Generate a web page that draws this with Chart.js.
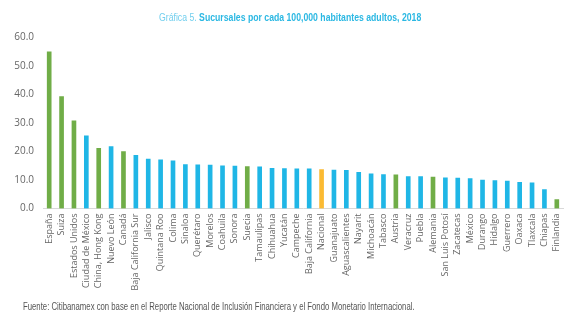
<!DOCTYPE html>
<html>
<head>
<meta charset="utf-8">
<script src="https://cdn.jsdelivr.net/npm/chart.js@4"></script>
<style>
  html, body { margin: 0; padding: 0; background: #fff; }
  #wrap { position: relative; width: 585px; height: 315px; overflow: hidden; }
  #chart0 { position: absolute; left: 0; top: 0; }
  .titulo { position: absolute; left: 159px; top: 10px; transform: scaleX(0.79); transform-origin: 0 0;
            font-family: "Liberation Sans", sans-serif;
            font-size: 11px; line-height: 14px; color: #2bb8e3; white-space: nowrap; }
  .titulo b { font-weight: bold; }
  .titulo span { color: #72cfee; }
  .fuente { position: absolute; left: 23px; top: 300px; transform: scaleX(0.775); transform-origin: 0 0;
            font-family: "Liberation Sans", sans-serif;
            font-size: 10px; line-height: 13px; color: #555; white-space: nowrap; }
</style>
</head>
<body>
<div id="wrap">
  <canvas id="chart0" width="585" height="315"></canvas>
  <div class="titulo"><span>Gráfica 5.</span> <b>Sucursales por cada 100,000 habitantes adultos, 2018</b></div>
  <div class="fuente">Fuente: Citibanamex con base en el Reporte Nacional de Inclusión Financiera y el Fondo Monetario Internacional.</div>
</div>
<script>
// datos
const labels = [
  'España', 'Suiza', 'Estados Unidos', 'Ciudad de México', 'China, Hong Kong',
  'Nuevo León', 'Canadá', 'Baja California Sur', 'Jalisco', 'Quintana Roo',
  'Colima', 'Sinaloa', 'Querétaro', 'Morelos', 'Coahuila', 'Sonora', 'Suecia',
  'Tamaulipas', 'Chihuahua', 'Yucatán', 'Campeche', 'Baja California', 'Nacional',
  'Guanajuato', 'Aguascalientes', 'Nayarit', 'Michoacán', 'Tabasco', 'Austria',
  'Veracruz', 'Puebla', 'Alemania', 'San Luis Potosí', 'Zacatecas', 'México',
  'Durango', 'Hidalgo', 'Guerrero', 'Oaxaca', 'Tlaxcala', 'Chiapas', 'Finlandia'
];
const dataValues = [
  55.0, 39.3, 30.8, 25.5, 21.1,
  21.7, 20.0, 18.7, 17.3, 17.1,
  16.7, 15.4, 15.3, 15.2, 15.0, 14.9, 14.7,
  14.6, 14.1, 14.0, 13.9, 13.9, 13.7,
  13.5, 13.4, 12.7, 12.2, 11.9, 11.8,
  11.2, 11.2, 11.0, 10.8, 10.7, 10.5,
  10.0, 9.8, 9.6, 9.2, 9.0, 6.6, 3.1
];
// tipo: p = país, e = estado, n = nacional
const tipos = [
  'p', 'p', 'p', 'e', 'p',
  'e', 'p', 'e', 'e', 'e',
  'e', 'e', 'e', 'e', 'e', 'e', 'p',
  'e', 'e', 'e', 'e', 'e', 'n',
  'e', 'e', 'e', 'e', 'e', 'p',
  'e', 'e', 'p', 'e', 'e', 'e',
  'e', 'e', 'e', 'e', 'e', 'e', 'p'
];
const yTicks = [0, 10, 20, 30, 40, 50, 60];

const colores = { p: '#70ad47', e: '#1fb6e6', n: '#fbba32' };

const ctx = document.getElementById('chart0').getContext('2d');

new Chart(ctx, {
  type: 'bar',
  data: {
    labels: labels,
    datasets: [{
      label: 'Sucursales',
      data: dataValues,
      backgroundColor: tipos.map(t => colores[t]),
      barThickness: 4
    }]
  },
  options: {
    responsive: false,
    animation: false,
    layout: { padding: { top: 37.5, right: 22, left: 0, bottom: 0 } },
    plugins: {
      legend: { display: false },
      title: { display: false },
      tooltip: { enabled: false }
    },
    scales: {
      x: {
        afterFit: function(scale) { scale.height = 106.5; },
        grid: { display: false, drawTicks: false },
        border: { display: true, color: '#d9d9d9', width: 1 },
        ticks: {
          autoSkip: false,
          maxRotation: 90,
          minRotation: 90,
          padding: 5,
          color: '#666',
          font: { family: '"Open Sans", sans-serif', size: 9 }
        }
      },
      y: {
        min: 0,
        max: 60,
        afterFit: function(scale) { scale.width = 43; },
        afterBuildTicks: function(scale) { scale.ticks = yTicks.map(v => ({ value: v })); },
        grid: { display: false, drawTicks: false },
        border: { display: false },
        ticks: {
          padding: 9,
          color: '#666',
          font: { family: '"Open Sans", sans-serif', size: 10 },
          callback: function(value) { return value.toFixed(1); }
        }
      }
    }
  }
});
</script>
</body>
</html>
